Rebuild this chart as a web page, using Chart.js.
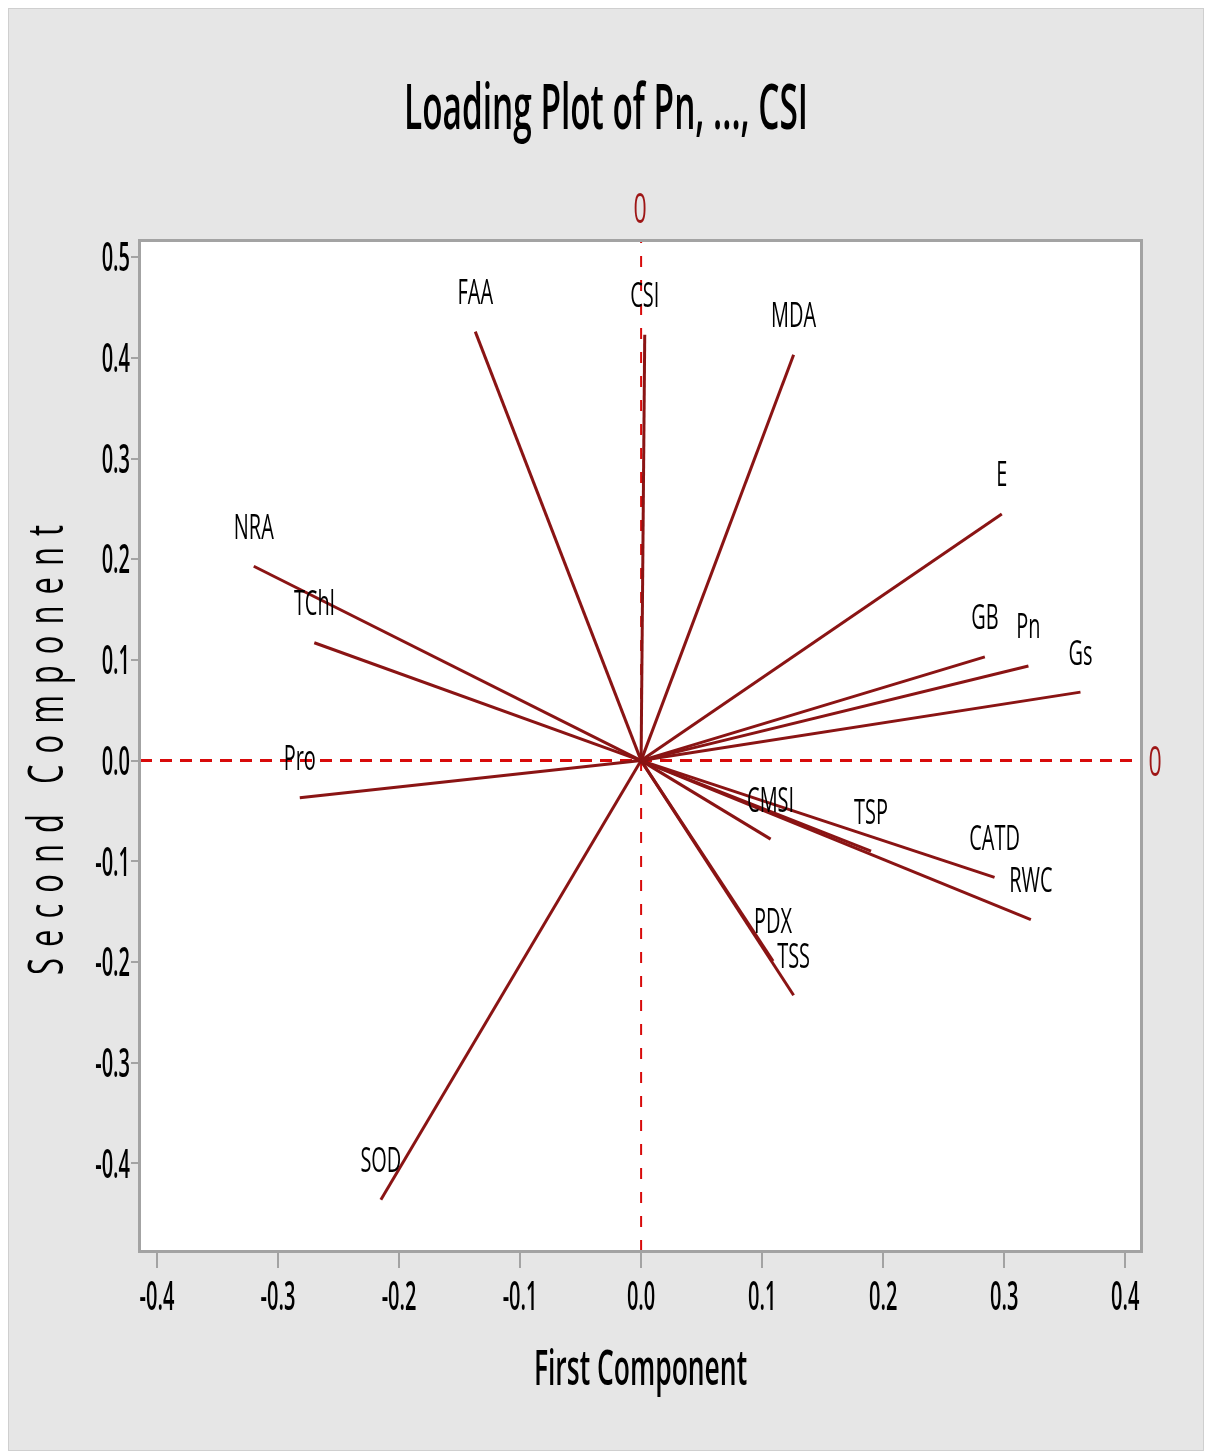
<!DOCTYPE html>
<html>
<head>
<meta charset="utf-8">
<title>Loading Plot of Pn, ..., CSI</title>
<script src="https://cdn.jsdelivr.net/npm/chart.js@4.4.1/dist/chart.umd.min.js"></script>
<style>
  html, body { margin: 0; padding: 0; background: #ffffff; }
  canvas { display: block; }
</style>
</head>
<body>
<canvas id="loading" width="1206" height="1452"></canvas>
<script>
// Variables and their loadings on the first two principal components
const variables = ['Pn', 'Gs', 'E', 'GB', 'CATD', 'RWC', 'TSP', 'CMSI', 'PDX', 'TSS', 'MDA', 'CSI', 'FAA', 'NRA', 'TChl', 'Pro', 'SOD'];
const firstComponent  = [0.320, 0.363, 0.298, 0.284, 0.292, 0.322, 0.190, 0.107, 0.109, 0.126, 0.126, 0.003, -0.137, -0.320, -0.270, -0.282, -0.215];
const secondComponent = [0.094, 0.068, 0.245, 0.103, -0.116, -0.158, -0.090, -0.078, -0.199, -0.233, 0.403, 0.423, 0.426, 0.193, 0.117, -0.037, -0.436];

// Axis ticks
const xTickValues = [-0.4, -0.3, -0.2, -0.1, 0.0, 0.1, 0.2, 0.3, 0.4];
const xTickLabels = ['-0.4', '-0.3', '-0.2', '-0.1', '0.0', '0.1', '0.2', '0.3', '0.4'];
const yTickValues = [-0.4, -0.3, -0.2, -0.1, 0.0, 0.1, 0.2, 0.3, 0.4, 0.5];
const yTickLabels = ['-0.4', '-0.3', '-0.2', '-0.1', '0.0', '0.1', '0.2', '0.3', '0.4', '0.5'];

const X_MIN = -0.414, X_MAX = 0.413;
const Y_MIN = -0.487, Y_MAX = 0.516;

const LOAD_COLOR = '#8a1414';
const REF_COLOR = '#d80a0a';
const REF_LABEL_COLOR = '#9e1616';
const FONT = '"Open Sans", "Noto Sans", "DejaVu Sans", sans-serif';

// One segment from the origin to each loading
const loadingSets = variables.map((name, i) => ({
  label: name,
  data: [{ x: 0, y: 0 }, { x: firstComponent[i], y: secondComponent[i] }],
  showLine: true,
  borderColor: LOAD_COLOR,
  borderWidth: 3,
  pointRadius: 0,
  fill: false,
  order: 1
}));

// Zero reference lines
const refSets = [
  {
    label: 'ref-h',
    data: [{ x: X_MIN, y: 0 }, { x: X_MAX, y: 0 }],
    showLine: true, borderColor: REF_COLOR, borderWidth: 3,
    borderDash: [12, 8], pointRadius: 0, order: 2
  },
  {
    label: 'ref-v',
    data: [{ x: 0, y: Y_MIN }, { x: 0, y: Y_MAX }],
    showLine: true, borderColor: REF_COLOR, borderWidth: 2,
    borderDash: [11, 13], pointRadius: 0, order: 2
  }
];

function narrowText(ctx, text, x, y, size, color, align, sx, weight) {
  // y is the vertical centre of the capitals
  ctx.save();
  ctx.font = (weight || 400) + ' ' + size + 'px ' + FONT;
  ctx.fillStyle = color;
  ctx.textBaseline = 'alphabetic';
  ctx.textAlign = align;
  ctx.translate(x, y + size * 0.357);
  ctx.scale(sx, 1);
  ctx.fillText(text, 0, 0);
  ctx.restore();
}

const decor = {
  id: 'decor',
  beforeDraw(chart) {
    const ctx = chart.ctx;
    const a = chart.chartArea;
    ctx.save();
    ctx.fillStyle = '#ffffff';
    ctx.fillRect(0, 0, chart.width, chart.height);
    ctx.fillStyle = '#e6e6e6';
    ctx.fillRect(9, 9, 1194, 1441);
    ctx.strokeStyle = '#cfcfcf';
    ctx.lineWidth = 1;
    ctx.strokeRect(8.5, 8.5, 1195, 1442);
    ctx.fillStyle = '#ffffff';
    ctx.fillRect(a.left, a.top, a.right - a.left, a.bottom - a.top);
    ctx.restore();
  },
  afterDraw(chart) {
    const ctx = chart.ctx;
    const a = chart.chartArea;
    const xs = chart.scales.x, ys = chart.scales.y;

    // frame
    ctx.save();
    ctx.strokeStyle = '#a3a3a3';
    ctx.lineWidth = 3;
    ctx.strokeRect(a.left - 0.5, a.top - 0.5, a.right - a.left + 1, a.bottom - a.top + 1);

    // tick marks
    ctx.lineWidth = 2;
    ctx.beginPath();
    xTickValues.forEach(v => {
      const px = Math.round(xs.getPixelForValue(v));
      ctx.moveTo(px, a.bottom + 1);
      ctx.lineTo(px, a.bottom + 17);
    });
    yTickValues.forEach(v => {
      const py = Math.round(ys.getPixelForValue(v));
      ctx.moveTo(a.left - 1, py);
      ctx.lineTo(a.left - 9, py);
    });
    ctx.stroke();
    ctx.restore();

    // tick labels
    xTickValues.forEach((v, i) => {
      narrowText(ctx, xTickLabels[i], xs.getPixelForValue(v), a.bottom + 45, 40, '#000000', 'center', 0.5, 600);
    });
    yTickValues.forEach((v, i) => {
      narrowText(ctx, yTickLabels[i], a.left - 10, ys.getPixelForValue(v), 40, '#000000', 'right', 0.5, 600);
    });

    // variable names just above each loading end
    variables.forEach((name, i) => {
      const px = xs.getPixelForValue(firstComponent[i]);
      const py = ys.getPixelForValue(secondComponent[i]);
      narrowText(ctx, name, px, py - 40, 35, '#000000', 'center', 0.57, 400);
    });

    // reference line values
    narrowText(ctx, '0', xs.getPixelForValue(0) - 1, a.top - 33, 42, REF_LABEL_COLOR, 'center', 0.55, 400);
    narrowText(ctx, '0', a.right + 14, ys.getPixelForValue(0), 42, REF_LABEL_COLOR, 'center', 0.55, 400);

    // titles
    narrowText(ctx, 'Loading Plot of Pn, ..., CSI', 606, 107, 63, '#000000', 'center', 0.53, 600);
    narrowText(ctx, 'First Component', (a.left + a.right) / 2, 1368, 49, '#000000', 'center', 0.54, 600);

    // vertical axis title, spaced letters
    const yTitle = 'Second Component';
    const size = 50;
    ctx.save();
    ctx.font = '400 ' + size + 'px ' + FONT;
    ctx.fillStyle = '#000000';
    ctx.textBaseline = 'alphabetic';
    ctx.translate(45 + size * 0.357, 750);
    ctx.rotate(-Math.PI / 2);
    const sx = 0.62;
    const gap = 11;
    const widths = [...yTitle].map(c => ctx.measureText(c).width * sx);
    const total = widths.reduce((s, w) => s + w, 0) + gap * (yTitle.length - 1);
    let pos = -total / 2;
    [...yTitle].forEach((c, k) => {
      ctx.save();
      ctx.translate(pos, 0);
      ctx.scale(sx, 1);
      ctx.fillText(c, 0, 0);
      ctx.restore();
      pos += widths[k] + gap;
    });
    ctx.restore();
  }
};

new Chart(document.getElementById('loading'), {
  type: 'scatter',
  data: { datasets: [...loadingSets, ...refSets] },
  options: {
    responsive: false,
    animation: false,
    devicePixelRatio: 1,
    layout: { padding: { left: 140, right: 65, top: 241, bottom: 201 } },
    scales: {
      x: { type: 'linear', min: X_MIN, max: X_MAX, display: false },
      y: { type: 'linear', min: Y_MIN, max: Y_MAX, display: false }
    },
    plugins: { legend: { display: false }, tooltip: { enabled: false } },
    elements: { point: { radius: 0 }, line: { tension: 0 } }
  },
  plugins: [decor]
});
</script>
</body>
</html>
